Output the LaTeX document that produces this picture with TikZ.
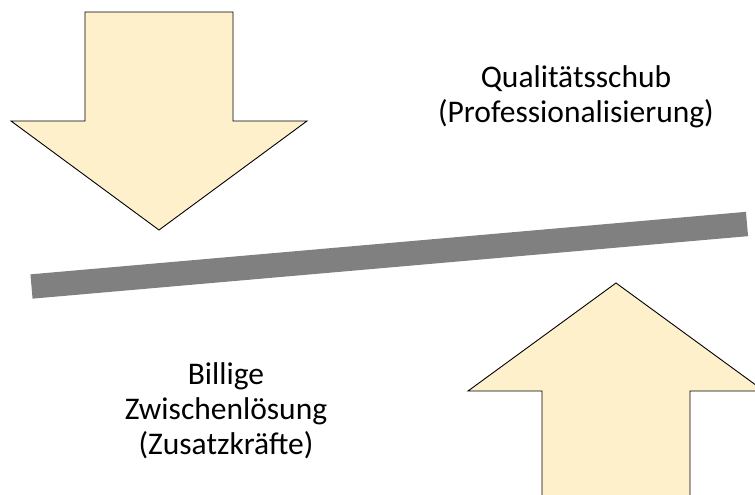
\documentclass[tikz,border=0pt]{standalone}
\usepackage{fontspec}
\setmainfont{Carlito}
\definecolor{arrowfill}{HTML}{FFF0CC}
\definecolor{beamgray}{HTML}{808080}
\begin{document}
\begin{tikzpicture}[x=1pt,y=-1pt,
  bigarrow/.style={fill=arrowfill,draw=black,line width=0.9pt,line join=miter},
  beam/.style={draw=beamgray,line width=24.4pt,line cap=butt},
  label/.style={align=center,font=\fontsize{31.5}{35}\selectfont,inner sep=0pt}]
  \useasboundingbox (0,0) rectangle (755,495);
  \clip (0,0) rectangle (755,495);
  % arrow pressing down from above
  \draw[bigarrow] (85,12) -- (233,12) -- (233,121) -- (307,121) -- (159,230)
    -- (11,121) -- (85,121) -- cycle;
  % arrow pushing up from below
  \draw[bigarrow] (542,505) -- (542,391) -- (468,391) -- (616,283) -- (764,391)
    -- (690,391) -- (690,505);
  % tilted beam
  \coordinate (beamL) at (31.5,286.5);
  \coordinate (beamR) at (747,224);
  \draw[beam] (beamL) -- (beamR);
  % captions
  \node[label] (qual) at (576,97) {Qualitätsschub\\(Professionalisierung)};
  \node[label] (billig) at (226,411) {Billige\\Zwischenlösung\\(Zusatzkräfte)};
\end{tikzpicture}
\end{document}
